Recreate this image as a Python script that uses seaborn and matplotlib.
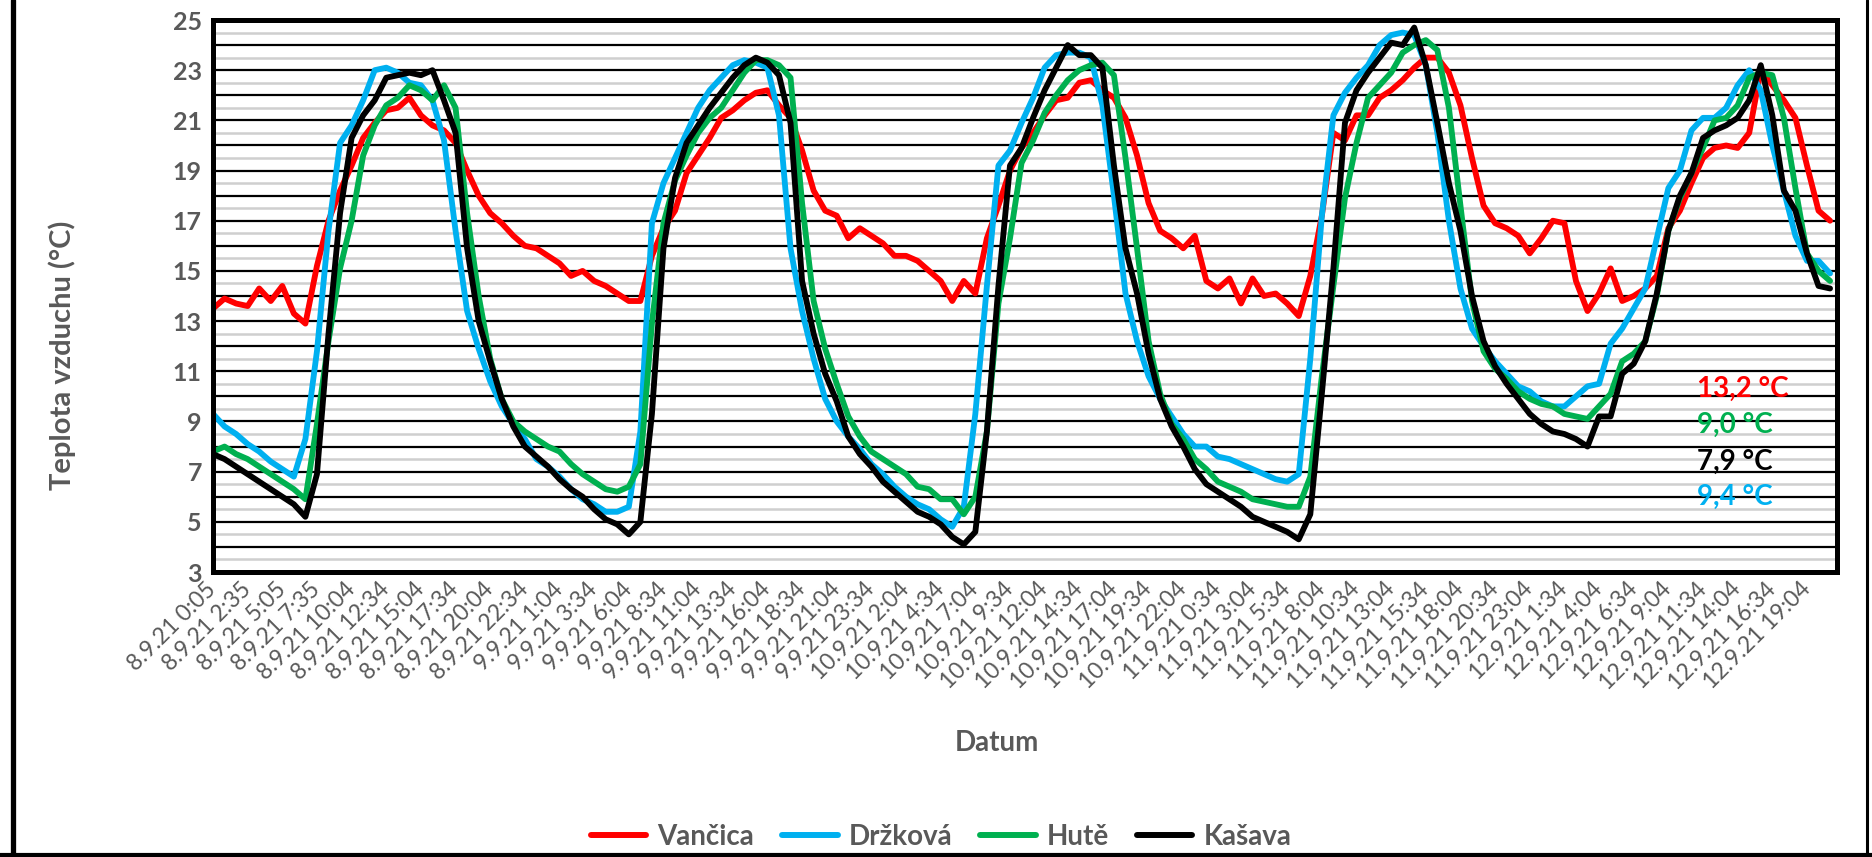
import numpy as np
import pandas as pd
import seaborn as sns
import matplotlib.pyplot as plt
from matplotlib.lines import Line2D

# readings every 10 samples (50 min)
vancica = [13.5, 13.9, 13.7, 13.6, 14.3, 13.8, 14.4, 13.3, 12.9, 15.2, 17.0, 18.2, 19.2, 20.3, 20.9, 21.4, 21.5, 21.9, 21.2, 20.8,
           20.6, 20.1, 19.0, 18.0, 17.3, 16.9, 16.4, 16.0,
           15.9, 15.6, 15.3, 14.8, 15.0, 14.6, 14.4, 14.1, 13.8, 13.8, 15.6, 16.7, 17.4, 18.9, 19.6, 20.3, 21.1, 21.4, 21.8, 22.1,
           22.2, 21.6, 21.1, 19.8, 18.2, 17.4, 17.2, 16.3,
           16.7, 16.4, 16.1, 15.6, 15.6, 15.4, 15.0, 14.6, 13.8, 14.6, 14.1, 16.3, 17.6, 19.0, 19.9, 20.5, 21.2, 21.8, 21.9, 22.5,
           22.6, 22.2, 21.9, 21.1, 19.6, 17.7, 16.6, 16.3,
           15.9, 16.4, 14.6, 14.3, 14.7, 13.7, 14.7, 14.0, 14.1, 13.7, 13.2, 14.8, 17.2, 20.5, 20.2, 21.2, 21.2, 21.9, 22.2, 22.6,
           23.1, 23.5, 23.5, 22.9, 21.6, 19.5, 17.6, 16.9,
           16.7, 16.4, 15.7, 16.3, 17.0, 16.9, 14.6, 13.4, 14.1, 15.1, 13.8, 14.0, 14.3, 14.8, 16.7, 17.4, 18.5, 19.5, 19.9, 20.0,
           19.9, 20.5, 23.0, 22.4, 21.8, 21.1, 19.2, 17.4, 17.0]
drzkova = [9.3, 8.8, 8.5, 8.1, 7.8, 7.4, 7.1, 6.8, 8.3, 11.8, 16.6, 20.1, 20.8, 21.8, 23.0, 23.1, 22.9, 22.5, 22.4, 21.8,
           20.2, 16.6, 13.4, 11.9, 10.6, 9.6, 8.9, 8.3,
           7.5, 7.2, 6.8, 6.3, 5.9, 5.7, 5.4, 5.4, 5.6, 8.6, 16.9, 18.5, 19.5, 20.5, 21.5, 22.2, 22.7, 23.2, 23.4, 23.3,
           23.1, 21.2, 15.9, 13.4, 11.5, 9.9, 9.0, 8.4,
           7.9, 7.3, 6.9, 6.4, 6.0, 5.7, 5.5, 5.1, 4.8, 5.6, 9.3, 14.4, 19.2, 19.8, 20.9, 21.9, 23.1, 23.6, 23.7, 23.7,
           23.5, 21.6, 18.0, 14.1, 12.2, 10.8, 9.9, 9.2,
           8.5, 8.0, 8.0, 7.6, 7.5, 7.3, 7.1, 6.9, 6.7, 6.6, 6.9, 11.5, 17.2, 21.2, 22.1, 22.7, 23.2, 24.0, 24.4, 24.5,
           24.4, 23.2, 20.5, 17.0, 14.3, 12.7, 12.0, 11.4,
           10.9, 10.4, 10.2, 9.8, 9.6, 9.6, 10.0, 10.4, 10.5, 12.1, 12.7, 13.5, 14.3, 16.3, 18.3, 19.0, 20.6, 21.1, 21.1, 21.5,
           22.4, 23.0, 22.2, 20.0, 18.2, 16.4, 15.4, 15.4, 14.9]
hute = [7.8, 8.0, 7.7, 7.5, 7.2, 6.9, 6.6, 6.3, 5.9, 8.9, 12.2, 15.1, 17.0, 19.6, 20.8, 21.6, 21.9, 22.4, 22.2, 21.8,
        22.4, 21.5, 17.3, 14.0, 11.5, 9.9, 9.0, 8.6,
        8.3, 8.0, 7.8, 7.3, 6.9, 6.6, 6.3, 6.2, 6.4, 7.3, 12.9, 16.9, 18.6, 19.6, 20.5, 21.1, 21.5, 22.2, 22.9, 23.4,
        23.4, 23.2, 22.7, 17.7, 13.8, 11.9, 10.5, 9.2,
        8.4, 7.8, 7.5, 7.2, 6.9, 6.4, 6.3, 5.9, 5.9, 5.3, 6.0, 8.6, 13.7, 16.3, 19.3, 20.2, 21.3, 22.0, 22.6, 23.0,
        23.2, 23.3, 22.8, 19.5, 15.9, 12.2, 10.1, 8.9,
        8.3, 7.5, 7.1, 6.6, 6.4, 6.2, 5.9, 5.8, 5.7, 5.6, 5.6, 6.8, 10.8, 14.4, 17.9, 20.1, 21.9, 22.4, 22.9, 23.7,
        24.0, 24.2, 23.8, 21.5, 17.6, 13.8, 11.8, 11.1,
        10.7, 10.2, 9.9, 9.7, 9.6, 9.3, 9.2, 9.1, 9.6, 10.1, 11.4, 11.7, 12.2, 14.0, 16.6, 17.9, 18.9, 19.9, 21.0, 21.1,
        21.6, 22.7, 22.9, 22.8, 21.1, 18.3, 15.7, 15.0, 14.6]
kasava = [7.7, 7.5, 7.2, 6.9, 6.6, 6.3, 6.0, 5.7, 5.2, 6.9, 12.5, 17.3, 20.3, 21.2, 21.8, 22.7, 22.8, 22.9, 22.8, 23.0,
          21.8, 20.5, 15.9, 13.0, 11.4, 9.9, 8.8, 8.0,
          7.6, 7.2, 6.7, 6.3, 6.0, 5.5, 5.1, 4.9, 4.5, 5.0, 9.3, 15.9, 18.7, 20.1, 20.8, 21.5, 22.1, 22.7, 23.2, 23.5,
          23.3, 22.8, 20.9, 14.6, 12.5, 10.9, 9.8, 8.4,
          7.7, 7.2, 6.6, 6.2, 5.8, 5.4, 5.2, 4.9, 4.4, 4.1, 4.6, 8.6, 14.4, 19.2, 19.9, 21.1, 22.2, 23.1, 24.0, 23.6,
          23.6, 23.1, 19.2, 15.9, 14.1, 11.7, 9.9, 8.8,
          8.0, 7.1, 6.5, 6.2, 5.9, 5.6, 5.2, 5.0, 4.8, 4.6, 4.3, 5.3, 10.1, 15.1, 20.9, 22.2, 22.9, 23.5, 24.1, 24.0,
          24.7, 23.2, 20.9, 18.5, 16.6, 14.0, 12.2, 11.2,
          10.5, 9.9, 9.3, 8.9, 8.6, 8.5, 8.3, 8.0, 9.2, 9.2, 10.9, 11.3, 12.2, 14.1, 16.6, 18.0, 18.9, 20.3, 20.6, 20.8,
          21.1, 21.8, 23.2, 21.2, 18.2, 17.4, 15.7, 14.4, 14.3]

stations = ['Vančica', 'Držková', 'Hutě', 'Kašava']
colors = ['#FF0000', '#00B0F0', '#00B050', '#000000']

tick_labels = [
    '8.9.21 0:05', '8.9.21 2:35', '8.9.21 5:05', '8.9.21 7:35', '8.9.21 10:04', '8.9.21 12:34', '8.9.21 15:04',
    '8.9.21 17:34', '8.9.21 20:04', '8.9.21 22:34',
    '9.9.21 1:04', '9.9.21 3:34', '9.9.21 6:04', '9.9.21 8:34', '9.9.21 11:04', '9.9.21 13:34', '9.9.21 16:04',
    '9.9.21 18:34', '9.9.21 21:04', '9.9.21 23:34',
    '10.9.21 2:04', '10.9.21 4:34', '10.9.21 7:04', '10.9.21 9:34', '10.9.21 12:04', '10.9.21 14:34', '10.9.21 17:04',
    '10.9.21 19:34', '10.9.21 22:04',
    '11.9.21 0:34', '11.9.21 3:04', '11.9.21 5:34', '11.9.21 8:04', '11.9.21 10:34', '11.9.21 13:04', '11.9.21 15:34',
    '11.9.21 18:04', '11.9.21 20:34', '11.9.21 23:04',
    '12.9.21 1:34', '12.9.21 4:04', '12.9.21 6:34', '12.9.21 9:04', '12.9.21 11:34', '12.9.21 14:04', '12.9.21 16:34',
    '12.9.21 19:04',
]

avg_texts = ['13,2 °C', '9,0 °C', '7,9 °C', '9,4 °C']
avg_colors = ['#FF0000', '#00B050', '#000000', '#00B0F0']
avg_y = [10.3, 8.85, 7.4, 6.0]

gray = '#595959'

df = pd.DataFrame({'idx': np.arange(len(vancica)), 'Vančica': vancica, 'Držková': drzkova,
                   'Hutě': hute, 'Kašava': kasava})
long = df.melt(id_vars='idx', var_name='stanice', value_name='teplota')

sns.set_style('white')
plt.rcParams['font.family'] = ['Lato', 'DejaVu Sans']

W, H = 1872, 857
fig = plt.figure(figsize=(W / 100, H / 100), dpi=100)
ax = fig.add_axes([213 / W, 1 - 572 / H, (1837 - 213) / W, (572 - 20) / H])

sns.lineplot(data=long, x='idx', y='teplota', hue='stanice', hue_order=stations, palette=colors,
             linewidth=4.2, legend=False, sort=False, ax=ax)

ax.set_xlim(0, 140.6)
ax.set_ylim(3, 25)

yt = np.arange(3, 26, 1)
ax.set_yticks(yt)
ax.set_yticklabels([str(v) if v % 2 == 1 else '' for v in yt], fontsize=18, fontweight='bold', color=gray)
ax.set_yticks(np.arange(3.5, 25, 1), minor=True)
ax.grid(which='major', axis='y', color='black', linewidth=1.6)
ax.grid(which='minor', axis='y', color='#CFCFCF', linewidth=1.8)
ax.set_axisbelow(True)

ax.set_xticks(np.arange(0, len(tick_labels) * 3, 3))
ax.set_xticklabels(tick_labels, rotation=45, ha='right', va='center', rotation_mode='anchor',
                   fontsize=16.5, color=gray)
ax.tick_params(axis='both', which='both', length=0)
ax.tick_params(axis='x', pad=10)
ax.tick_params(axis='y', pad=8)

for s in ax.spines.values():
    s.set_visible(True)
    s.set_color('black')
    s.set_linewidth(3.6)

ax.set_xlabel('')
ax.set_ylabel('')
fig.text(997 / W, 1 - 743 / H, 'Datum', ha='center', va='center', fontsize=20, fontweight='bold', color=gray)
fig.text(62 / W, 1 - 355 / H, 'Teplota vzduchu (°C)', ha='center', va='center', rotation=90,
         fontsize=21, fontweight='bold', color=gray)

for t, c, y in zip(avg_texts, avg_colors, avg_y):
    ax.text(128.5, y, t, color=c, ha='left', va='center', fontsize=20, fontweight='bold')

handles = [Line2D([], [], color=c, linewidth=4.3) for c in colors]
fig.legend(handles, stations, loc='center', bbox_to_anchor=(941 / W, 1 - 837 / H), ncol=4, frameon=False,
           handlelength=2.0, handletextpad=0.4, columnspacing=1.0,
           prop={'weight': 'bold', 'size': 20}, labelcolor=gray)

# outer chart border
fig.add_artist(Line2D([12.5 / W, 12.5 / W], [0, 1], color='black', linewidth=3.8, transform=fig.transFigure))
fig.add_artist(Line2D([0, 1], [2 / H, 2 / H], color='black', linewidth=3.0, transform=fig.transFigure))
fig.add_artist(Line2D([1867 / W, 1867 / W], [0, 1], color='black', linewidth=2.2, transform=fig.transFigure))

fig.savefig('out.png', dpi=100)
